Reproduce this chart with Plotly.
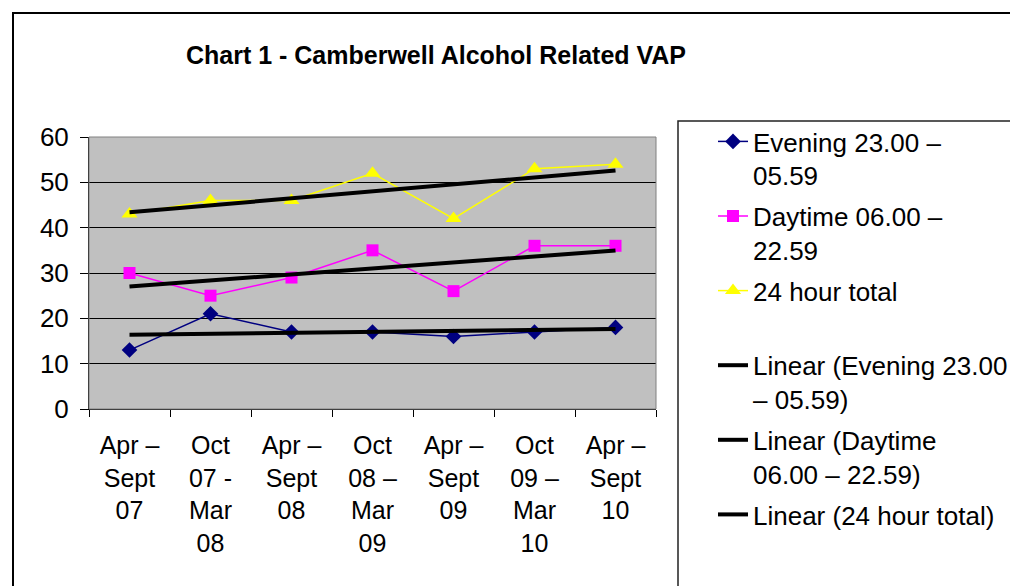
import numpy as np
import plotly.graph_objects as go

categories = [
    "Apr –<br>Sept<br>07",
    "Oct<br>07 -<br>Mar<br>08",
    "Apr –<br>Sept<br>08",
    "Oct<br>08 –<br>Mar<br>09",
    "Apr –<br>Sept<br>09",
    "Oct<br>09 –<br>Mar<br>10",
    "Apr –<br>Sept<br>10",
]
evening = [13, 21, 17, 17, 16, 17, 18]
daytime = [30, 25, 29, 35, 26, 36, 36]
total24 = [43, 46, 46, 52, 42, 53, 54]

series_names = ["Evening 23.00 –<br>05.59", "Daytime 06.00 –<br>22.59", "24 hour total<br> "]
trend_names = ["Linear (Evening 23.00<br>– 05.59)", "Linear (Daytime<br>06.00 – 22.59)", "Linear (24 hour total)"]
colors = ["#000080", "#FF00FF", "#FFFF00"]
symbols = ["diamond", "square", "triangle-up"]
msizes = [12, 12, 14]

FONT = "Liberation Sans, Arial, sans-serif"
fig = go.Figure()
xs = np.arange(len(categories))
data = [evening, daytime, total24]
for i, vals in enumerate(data):
    fig.add_trace(go.Scatter(
        x=categories, y=vals, name=series_names[i], mode="lines+markers",
        line=dict(color=colors[i], width=1.5),
        marker=dict(symbol=symbols[i], size=msizes[i], color=colors[i]),
        legendgroup=f"g{i}",
    ))
for i, vals in enumerate(data):
    slope, intercept = np.polyfit(xs, vals, 1)
    fig.add_trace(go.Scatter(
        x=categories, y=slope * xs + intercept, name=trend_names[i], mode="lines",
        line=dict(color="black", width=4), legendgroup=f"t{i}",
    ))

# page offset (body margin) compensation
O = 8
W, H = 1018 - O, 586 - O
L, R, T, B = 89 - O, 656 - O, 137 - O, 409 - O
pw, ph = R - L, B - T
def px(x):
    return (x - O - L) / pw
def py(y):
    return (B - (y - O)) / ph

fig.update_layout(
    width=W, height=H,
    margin=dict(l=L, r=W - R, t=T, b=H - B, autoexpand=False),
    paper_bgcolor="white", plot_bgcolor="#C0C0C0",
    font=dict(family=FONT, size=24, color="black"),
    title=dict(text="<b>Chart 1 - Camberwell Alcohol Related VAP</b>", x=(436 - O) / W, xanchor="center",
               xref="container", y=1 - (55 - O) / H, yref="container", yanchor="middle",
               font=dict(family=FONT, size=25, color="black")),
    showlegend=True,
    legend=dict(x=px(713), xanchor="left", y=py(118), yanchor="top", bgcolor="rgba(0,0,0,0)",
                borderwidth=0, font=dict(family=FONT, size=26), traceorder="grouped",
                tracegroupgap=4, valign="top", maxheight=800),
    xaxis=dict(type="category", tickson="boundaries", ticks="outside", ticklen=7,
               tickcolor="black", showline=True, linecolor="black", linewidth=1,
               showgrid=False, ticklabelstandoff=14, tickangle=0, zeroline=False,
               range=[-0.5, 6.5], tickfont=dict(size=25)),
    yaxis=dict(range=[0, 60], dtick=10, ticks="outside", ticklen=8, tickcolor="black",
               showline=True, linecolor="black", linewidth=1, showgrid=True,
               gridcolor="black", gridwidth=1, zeroline=False, ticklabelstandoff=6,
               tickfont=dict(size=26)),
    shapes=[
        dict(type="rect", xref="paper", yref="paper", x0=0, x1=1, y0=0, y1=1,
             line=dict(color="#808080", width=1), layer="above"),
        dict(type="rect", xref="paper", yref="paper", x0=px(678), x1=px(1040), y0=py(121), y1=py(620),
             line=dict(color="#222222", width=1.5)),
        dict(type="rect", xref="paper", yref="paper", x0=px(13), x1=px(1040), y0=py(13), y1=py(620),
             line=dict(color="black", width=2)),
    ],
)
fig.write_html("out.html")
